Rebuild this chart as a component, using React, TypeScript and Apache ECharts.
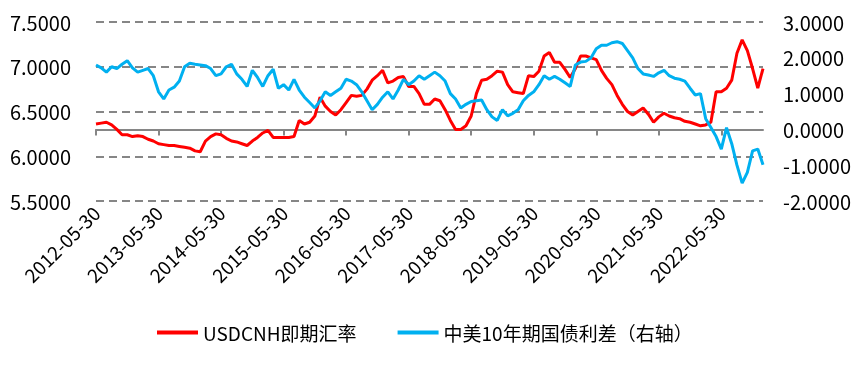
import React, { useEffect, useRef } from "react";
import * as echarts from "echarts";

// Monthly observations from 2012-05-30 to 2023-01-30
const START_YEAR = 2012;
const START_MONTH = 5;
const N_POINTS = 129;

const usdcnh: number[] = [
  6.36, 6.37, 6.38, 6.35, 6.30, 6.24, 6.24, 6.22, 6.23, 6.22, 6.19, 6.17,
  6.14, 6.13, 6.12, 6.12, 6.11, 6.10, 6.09, 6.06, 6.05, 6.17, 6.22, 6.25,
  6.24, 6.20, 6.17, 6.16, 6.14, 6.12, 6.17, 6.21, 6.26, 6.29, 6.21, 6.21,
  6.21, 6.21, 6.22, 6.40, 6.36, 6.38, 6.45, 6.66, 6.56, 6.50, 6.46, 6.52,
  6.60, 6.68, 6.67, 6.68, 6.75, 6.85, 6.90, 6.96, 6.82, 6.84, 6.88, 6.89,
  6.78, 6.78, 6.70, 6.58, 6.58, 6.64, 6.62, 6.52, 6.40, 6.30, 6.30, 6.34,
  6.45, 6.70, 6.85, 6.86, 6.90, 6.95, 6.94, 6.80, 6.72, 6.71, 6.70, 6.90,
  6.89, 6.95, 7.12, 7.16, 7.05, 7.05, 6.97, 6.88, 6.98, 7.12, 7.12, 7.10,
  7.08, 6.96, 6.87, 6.80, 6.68, 6.58, 6.50, 6.46, 6.50, 6.54, 6.47, 6.38,
  6.44, 6.48, 6.45, 6.43, 6.42, 6.39, 6.38, 6.36, 6.34, 6.35, 6.38, 6.72,
  6.72, 6.76, 6.85, 7.15, 7.30, 7.18, 6.98, 6.76, 6.98,
];

const spread: number[] = [
  1.80, 1.72, 1.60, 1.75, 1.70, 1.82, 1.92, 1.72, 1.60, 1.65, 1.70, 1.50,
  1.05, 0.85, 1.10, 1.18, 1.35, 1.75, 1.85, 1.82, 1.80, 1.78, 1.70, 1.50,
  1.55, 1.75, 1.82, 1.55, 1.40, 1.20, 1.65, 1.45, 1.20, 1.50, 1.68, 1.15,
  1.25, 1.10, 1.40, 1.10, 0.90, 0.75, 0.60, 0.80, 1.05, 0.95, 1.05, 1.15,
  1.40, 1.35, 1.25, 1.05, 0.80, 0.55, 0.70, 0.90, 1.05, 0.85, 1.10, 1.40,
  1.25, 1.35, 1.50, 1.40, 1.50, 1.60, 1.50, 1.35, 1.00, 0.85, 0.60, 0.70,
  0.78, 0.80, 0.82, 0.55, 0.35, 0.25, 0.55, 0.38, 0.45, 0.55, 0.80, 0.95,
  1.05, 1.25, 1.50, 1.40, 1.48, 1.40, 1.30, 1.20, 1.80, 1.88, 1.90, 2.00,
  2.25, 2.35, 2.35, 2.42, 2.45, 2.40, 2.20, 2.00, 1.70, 1.55, 1.52, 1.48,
  1.58, 1.65, 1.50, 1.43, 1.40, 1.35, 1.15, 0.96, 1.00, 0.30, 0.05, -0.20,
  -0.55, 0.05, -0.40, -1.00, -1.50, -1.20, -0.60, -0.55, -0.99,
];

const seriesNames = ["USDCNH即期汇率", "中美10年期国债利差（右轴）"];
const seriesColors = ["#FF0000", "#00B0F0"];

const leftTicks = { min: 5.5, max: 7.5, interval: 0.5 };
const rightTicks = { min: -2, max: 3, interval: 1 };

function buildDates(): string[] {
  const out: string[] = [];
  for (let i = 0; i < N_POINTS; i++) {
    const idx = START_MONTH - 1 + i;
    const y = START_YEAR + Math.floor(idx / 12);
    const m = (idx % 12) + 1;
    const d = m === 2 ? 28 : 30;
    out.push(`${y}-${String(m).padStart(2, "0")}-${String(d).padStart(2, "0")}`);
  }
  return out;
}

const FONT = "'Noto Sans CJK SC', 'Liberation Sans', sans-serif";

export default function App() {
  const ref = useRef<HTMLDivElement>(null);
  useEffect(() => {
    if (!ref.current) return;
    const chart = echarts.init(ref.current, null, { renderer: "svg" });
    const dates = buildDates();
    const yearly = (i: number) => i % 12 === 0;
    chart.setOption({
      animation: false,
      textStyle: { fontFamily: FONT },
      grid: { left: 96, right: 103, top: 22, bottom: 165, containLabel: false },
      legend: {
        left: 152,
        top: 318,
        icon: "rect",
        itemWidth: 41,
        itemHeight: 4,
        itemGap: 41,
        data: seriesNames,
        textStyle: { fontSize: 19, color: "#000", fontFamily: FONT },
      },
      xAxis: {
        type: "category",
        data: dates,
        boundaryGap: false,
        axisLine: { show: true, lineStyle: { color: "#868686", width: 2 } },
        axisTick: {
          show: true,
          interval: yearly,
          length: 6,
          lineStyle: { color: "#868686", width: 2 },
        },
        axisLabel: {
          interval: yearly,
          rotate: 45,
          fontSize: 19,
          color: "#000",
          margin: 8,
          fontFamily: FONT,
        },
        splitLine: { show: false },
      },
      yAxis: [
        {
          type: "value",
          position: "left",
          ...leftTicks,
          axisLine: { show: false },
          axisTick: { show: false },
          axisLabel: {
            formatter: (v: number) => v.toFixed(4),
            fontSize: 20,
            color: "#000",
            margin: 25,
            fontFamily: FONT,
          },
          splitLine: {
            show: true,
            lineStyle: { color: "#868686", width: 2, type: [8, 5] },
          },
        },
        {
          type: "value",
          position: "right",
          ...rightTicks,
          axisLine: { show: false },
          axisTick: { show: false },
          axisLabel: {
            formatter: (v: number) => v.toFixed(4),
            fontSize: 20,
            color: "#000",
            margin: 20,
            fontFamily: FONT,
          },
          splitLine: { show: false },
        },
      ],
      series: [
        {
          name: seriesNames[0],
          type: "line",
          yAxisIndex: 0,
          data: usdcnh,
          showSymbol: false,
          symbol: "none",
          color: seriesColors[0],
          lineStyle: { width: 3, color: seriesColors[0] },
        },
        {
          name: seriesNames[1],
          type: "line",
          yAxisIndex: 1,
          data: spread,
          showSymbol: false,
          symbol: "none",
          color: seriesColors[1],
          lineStyle: { width: 3, color: seriesColors[1] },
        },
      ],
    });
    return () => chart.dispose();
  }, []);
  return (
    <div
      ref={ref}
      style={{ position: "fixed", left: 0, top: 0, width: 866, height: 366 }}
    />
  );
}
